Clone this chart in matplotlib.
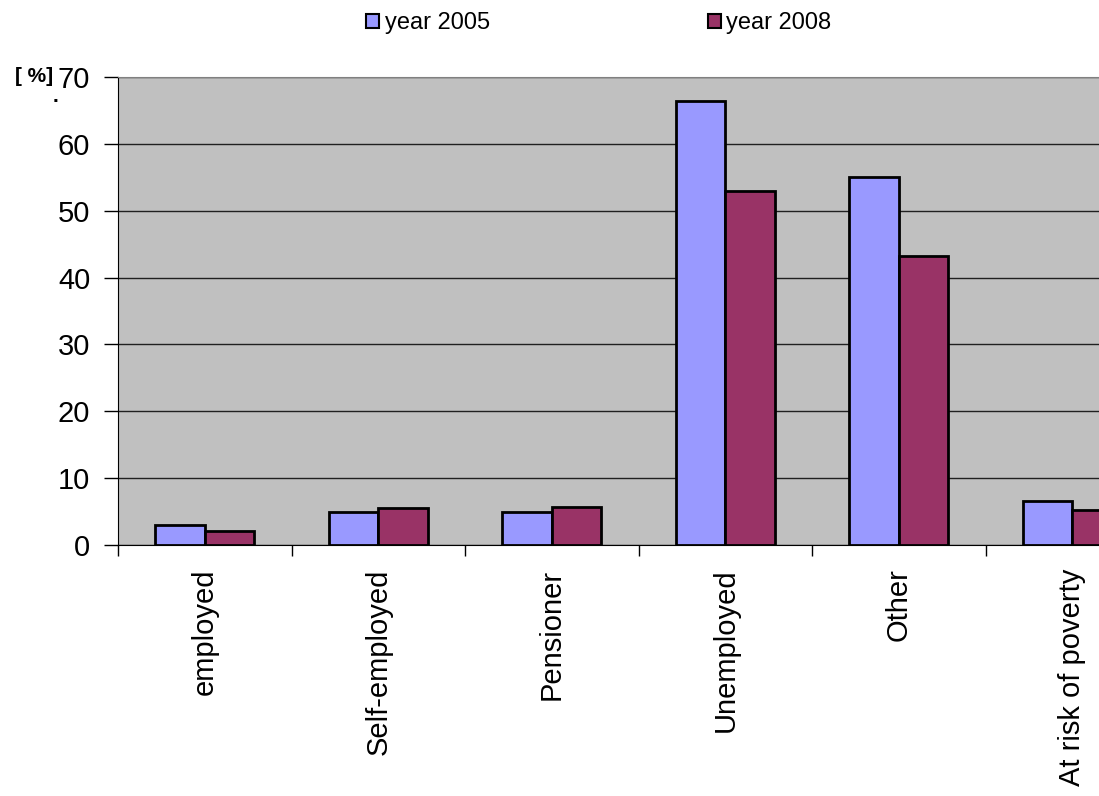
import matplotlib
matplotlib.use("Agg")
import matplotlib.pyplot as plt
import numpy as np
from matplotlib.patches import Patch

plt.rcParams['font.family'] = ['Liberation Sans', 'DejaVu Sans']

categories = ["employed", "Self-employed", "Pensioner", "Unemployed", "Other", "At risk of poverty"]
year_2005 = [3.0, 5.0, 4.9, 66.4, 55.1, 6.6]
year_2008 = [2.1, 5.5, 5.7, 53.0, 43.3, 5.3]
series_names = ["year 2005", "year 2008"]
colors = ["#9999FF", "#993366"]

W, H = 1099, 796
fig = plt.figure(figsize=(W / 100, H / 100), dpi=100)
# plot area runs past the right edge of the picture, as in the source
left, right, top, bottom = 118, 1159, 77, 545
ax = fig.add_axes([left / W, (H - bottom) / H, (right - left) / W, (bottom - top) / H])
ax.set_facecolor("#C0C0C0")

x = np.arange(len(categories))
bw = 1 / 3.5
ax.bar(x - bw / 2, year_2005, bw, color=colors[0], edgecolor="black", linewidth=2, zorder=3)
ax.bar(x + bw / 2, year_2008, bw, color=colors[1], edgecolor="black", linewidth=2, zorder=3)

ax.set_xlim(-0.5, len(categories) - 0.5)
ax.set_ylim(0, 70)
ax.set_yticks(range(0, 71, 10))
ax.yaxis.grid(True, color="#202020", linewidth=1, zorder=0)
ax.set_axisbelow(True)

ax.set_xticks(x)
ax.set_xticklabels(categories, rotation=90, fontsize=21, va="top")
ax.set_xticks(np.arange(-0.5, len(categories), 1), minor=True)
ax.tick_params(axis="x", which="major", length=0, pad=17)
ax.tick_params(axis="x", which="minor", length=8, width=1, direction="out")
ax.tick_params(axis="y", length=10, width=1, labelsize=21, pad=10)

for side in ["top", "right"]:
    ax.spines[side].set_color("#808080")
ax.spines["left"].set_color("black")
ax.spines["bottom"].set_color("black")

fig.text(15 / W, 1 - 76 / H, "[ %]", fontsize=15, fontweight="bold", va="center", ha="left")
fig.text(55 / W, 1 - 96 / H, ".", fontsize=15, fontweight="bold", va="center", ha="center")

handles = [Patch(facecolor=c, edgecolor="black", linewidth=1.5) for c in colors]
fig.legend(handles, series_names, ncol=2, loc="center", bbox_to_anchor=(599 / W, 1 - 23 / H),
           frameon=False, fontsize=17, handlelength=0.55, handleheight=0.55,
           handletextpad=0.25, columnspacing=9.2)

fig.savefig("out.png", dpi=100)
